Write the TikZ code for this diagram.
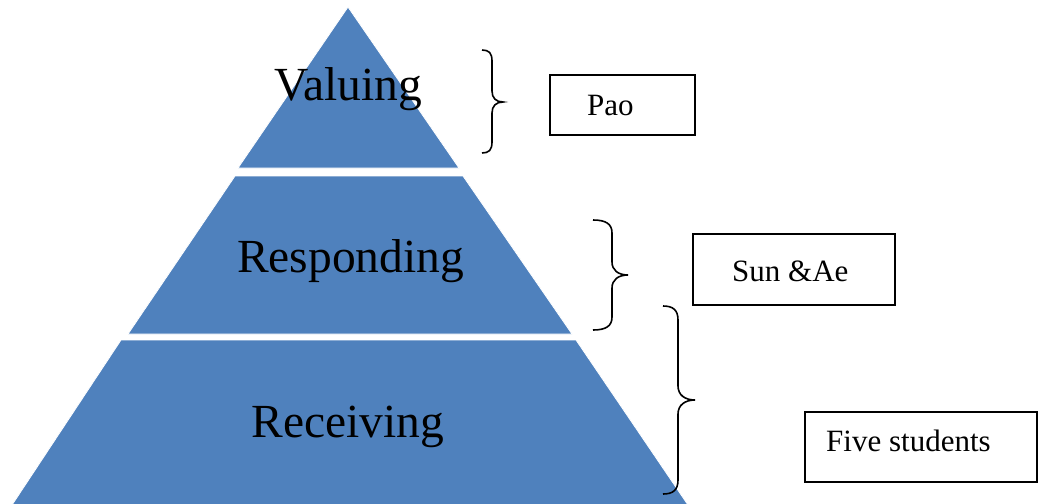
\documentclass[tikz,border=0pt]{standalone}
\usepackage{fontspec}
\setmainfont{Liberation Serif}
\definecolor{pyrblue}{HTML}{4F81BD}
\begin{document}
\begin{tikzpicture}[x=1pt,y=-1pt,
  layer/.style={fill=pyrblue, draw=white, line width=0.8pt},
  big/.style={font=\fontsize{47.5}{50}\selectfont, inner sep=0pt, anchor=base},
  box/.style={draw=black, line width=1.6pt, inner sep=0pt},
  lbl/.style={font=\fontsize{31}{33}\selectfont, inner sep=0pt, anchor=base west},
  brc/.style={draw=black, line width=1.6pt}]
\useasboundingbox (0,0) rectangle (1038,503);
\fill[white] (0,0) rectangle (1038,503);
% pyramid layers
\path[layer] (348,7) -- (459,168) -- (238,168) -- cycle;
\path[layer] (235,176) -- (463,176) -- (572,334) -- (128,334) -- cycle;
\path[layer] (121,340) -- (576,340) -- (688,505) -- (12,505) -- cycle;
% layer labels
\node[big] (valuing) at (348,100) {Valuing};
\node[big] (responding) at (350.5,272) {Responding};
\node[big] (receiving) at (348,437) {Receiving};
% braces
\draw[brc] (482,50) .. controls (489,50) and (492,53) .. (492,61) -- (492,91)
  .. controls (492,98) and (496,102) .. (503,102) .. controls (496,102) and (492,106) .. (492,113)
  -- (492,142) .. controls (492,150) and (489,153) .. (482,153);
\draw[brc] (593,220) .. controls (606,220) and (612,224) .. (612,233) -- (612,262)
  .. controls (612,270) and (618,275) .. (628,275) .. controls (618,275) and (612,280) .. (612,288)
  -- (612,317) .. controls (612,326) and (606,330) .. (593,330);
\draw[brc] (663,306) .. controls (673,306) and (678,310) .. (678,320) -- (678,386)
  .. controls (678,395) and (685,400) .. (695,400) .. controls (685,400) and (678,405) .. (678,414)
  -- (678,480) .. controls (678,490) and (673,494) .. (663,494);
% boxes
\node[box, minimum width=145pt, minimum height=60pt] (pao) at (622.5,105) {};
\node[lbl] (paotext) at (587,115) {Pao};
\node[box, minimum width=202pt, minimum height=71pt] (sunae) at (794,269.5) {};
\node[lbl] (sunaetext) at (732,281) {Sun \&Ae};
\node[box, minimum width=232pt, minimum height=70pt] (five) at (921,447) {};
\node[lbl] (fivetext) at (826,451) {Five students};
\end{tikzpicture}
\end{document}
